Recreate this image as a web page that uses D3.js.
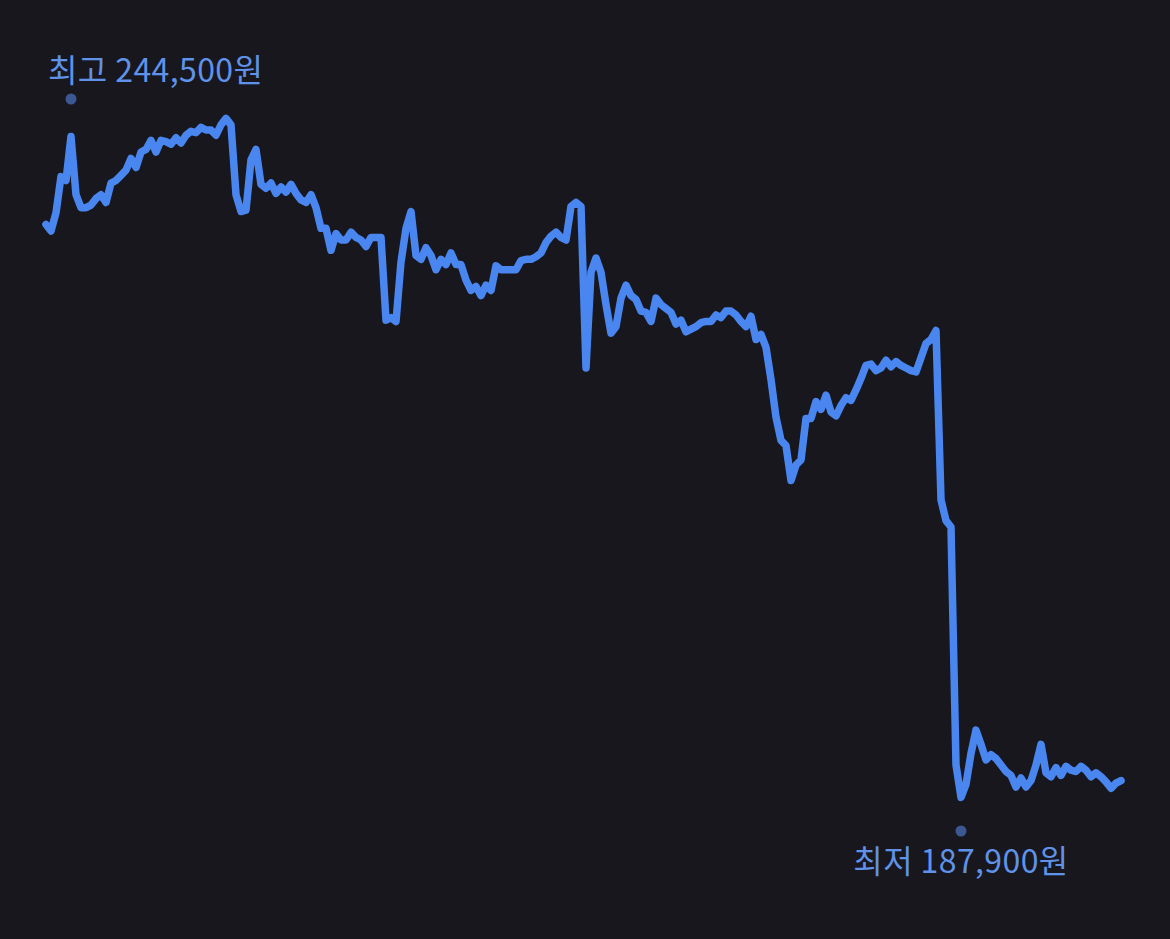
<!DOCTYPE html>
<html>
<head>
<meta charset="utf-8">
<script src="https://cdn.jsdelivr.net/npm/d3@7"></script>
<style>
  html, body { margin: 0; padding: 0; background: #17171d; }
  svg { display: block; }
</style>
</head>
<body>
<svg></svg>
<script>
var width = 1170, height = 939;

// closing prices (원), evenly spaced in time
const prices = [
  234800, 234300, 235700, 238500, 238200, 241600, 237100, 236100, 236100, 236300,
  236800, 237100, 236500, 238000, 238200, 238600, 239000, 239900, 239200, 240400,
  240600, 241300, 240400, 241300, 241200, 241000, 241500, 241100, 241700, 242000,
  241900, 242300, 242100, 242100, 241700, 242500, 243000, 242500, 237100, 235800,
  235900, 239800, 240600, 237900, 237600, 238000, 237200, 237700, 237300, 237900,
  237200, 236700, 236500, 237100, 236100, 234500, 234500, 232800, 234100, 233600,
  233600, 234200, 233800, 233600, 233100, 233800, 233800, 233800, 227400, 227600,
  227300, 231900, 234500, 235800, 232400, 232100, 233000, 232400, 231300, 232100,
  231700, 232600, 231700, 231700, 230500, 229700, 230000, 229300, 230100, 229700,
  231600, 231300, 231300, 231300, 231300, 232000, 232100, 232100, 232300, 232600,
  233400, 233900, 234200, 233800, 233600, 236200, 236500, 236200, 223700, 231100,
  232200, 231100, 228600, 226400, 226900, 229100, 230100, 229300, 229000, 228100,
  228000, 227300, 229100, 228600, 228300, 228000, 227100, 227400, 226500, 226700,
  226900, 227200, 227300, 227300, 227800, 227600, 228100, 228100, 227800, 227300,
  226900, 227700, 225900, 226300, 225300, 222800, 219900, 218100, 217700, 215000,
  216200, 216600, 219800, 219800, 221100, 220500, 221600, 220300, 220000, 220800,
  221400, 221200, 222000, 222900, 223900, 224000, 223500, 223700, 224300, 223800,
  224200, 223900, 223700, 223500, 223400, 224500, 225600, 225900, 226600, 213500,
  211900, 211400, 193000, 190500, 191500, 193900, 195700, 194600, 193400, 193800,
  193500, 193000, 192500, 192200, 191300, 192000, 191300, 191800, 193000, 194600,
  192400, 192100, 192800, 192200, 192900, 192600, 192500, 192900, 192600, 192100,
  192400, 192100, 191700, 191200, 191600, 191800
];

// period high / low shown as markers
const highValue = 244500, highIndex = 5;
const lowValue = 187900, lowIndex = 183;
const highLabel = "최고 " + d3.format(",")(highValue) + "원";
const lowLabel = "최저 " + d3.format(",")(lowValue) + "원";

var svg = d3.select("svg").attr("width", width).attr("height", height);

var x = d3.scaleLinear().domain([0, prices.length - 1]).range([46, 1121]);
var y = d3.scaleLinear().domain([lowValue, highValue]).range([831, 99]);

var line = d3.line()
    .x(function (d, i) { return x(i); })
    .y(function (d) { return y(d); });

svg.append("path")
    .datum(prices)
    .attr("d", line)
    .attr("fill", "none")
    .attr("stroke", "#4a86f0")
    .attr("stroke-width", 7.5)
    .attr("stroke-linejoin", "round")
    .attr("stroke-linecap", "round");

var marks = [
  { i: highIndex, v: highValue, text: highLabel, dy: -17 },
  { i: lowIndex, v: lowValue, text: lowLabel, dy: 42 }
];

var g = svg.append("g").selectAll("g").data(marks).enter().append("g");

g.append("circle")
    .attr("cx", function (d) { return x(d.i); })
    .attr("cy", function (d) { return y(d.v); })
    .attr("r", 5.5)
    .attr("fill", "#3b5892");

g.append("text")
    .attr("font-family", "'Noto Sans CJK KR', 'Noto Sans', sans-serif")
    .attr("font-size", "32px")
    .attr("letter-spacing", "0.4px")
    .attr("fill", "#5f92e8")
    .attr("y", function (d) { return y(d.v) + d.dy; })
    .text(function (d) { return d.text; })
    .attr("x", function (d) {
        // centre on the marker, but keep inside the plot edges
        var w = this.getComputedTextLength();
        var cx = x(d.i) - w / 2;
        return Math.max(48, Math.min(cx, 1122 - w));
    });
</script>
</body>
</html>
